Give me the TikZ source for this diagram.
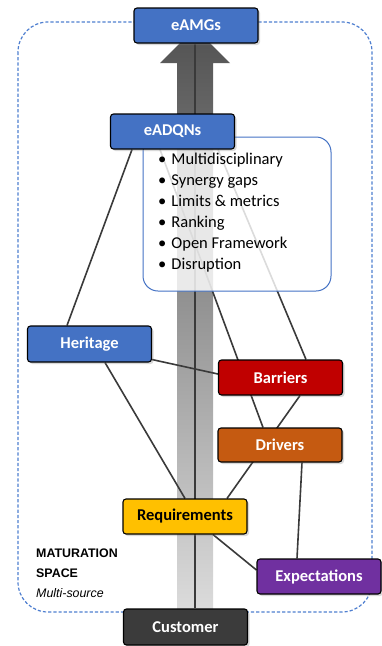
\documentclass[tikz,border=0pt]{standalone}
\usepackage{fontspec}
\setmainfont{Carlito}
\newfontfamily\arialfont{Liberation Sans}
\usetikzlibrary{shadows,calc}
\definecolor{cblue}{HTML}{4472C4}
\definecolor{cred}{HTML}{C00000}
\definecolor{corange}{HTML}{C55A11}
\definecolor{cyellow}{HTML}{FFC000}
\definecolor{cpurple}{HTML}{7030A0}
\definecolor{cdark}{HTML}{3B3B3B}
\definecolor{linkc}{HTML}{3A3A3A}
\definecolor{framec}{HTML}{4F7FD0}
\pgfdeclarelayer{l0}
\pgfdeclarelayer{l1}
\pgfdeclarelayer{l2}
\pgfsetlayers{l0,l1,l2,main}
\begin{document}
\begin{tikzpicture}[x=1pt,y=-1pt,
  box/.style={draw=black, line width=1.1pt, rounded corners=3pt,
    minimum width=124pt, minimum height=35pt, inner sep=0pt,
    font=\fontsize{16.5}{18}\selectfont\bfseries, text=white,
    drop shadow={shadow xshift=2pt, shadow yshift=-2pt, opacity=0.3}},
  link/.style={draw=linkc, line width=1.6pt},
  frame/.style={draw=framec, line width=1.2pt, dash pattern=on 3.2pt off 2pt, rounded corners=30pt}]
\useasboundingbox (0,0) rectangle (381,646);

% nodes
\node[box, fill=cblue] (eAMGs) at (196,25.5) {eAMGs};
\node[box, fill=cblue] (eADQNs) at (172.5,131.5) {eADQNs};
\node[box, fill=cblue, minimum height=36pt] (Heritage) at (89.5,344) {Heritage};
\node[box, fill=cred] (Barriers) at (280.5,377.5) {Barriers};
\node[box, fill=corange, minimum height=34pt] (Drivers) at (280,445) {Drivers};
\node[box, fill=cyellow, text=black] (Requirements) at (185,516.5) {Requirements};
\node[box, fill=cpurple] (Expectations) at (319,576.5) {Expectations};
\node[box, fill=cdark, minimum height=36pt] (Customer) at (185.5,627) {Customer};

\node[anchor=north west, align=left, inner sep=0pt, font=\arialfont\fontsize{12.4}{20}\selectfont] (label) at (36,548.5)
  {\textbf{MATURATION}\\ \textbf{SPACE}\\ \textit{Multi-source}};

\begin{pgfonlayer}{l0}
  \draw[frame] (18,22) rectangle (372,612);
  \shade[top color=black!68, middle color=black!30, bottom color=black!14]
    (177,609) -- (177,63) -- (160,63) -- (195,28) -- (230,63) -- (213,63) -- (213,609) -- cycle;
\end{pgfonlayer}

\begin{pgfonlayer}{l1}
  \draw[link] ([xshift=9.5pt]Customer.north) -- ([xshift=-1pt]eAMGs.south);
  \draw[link] ([xshift=-40.5pt]eADQNs.south) -- ([xshift=-22.5pt]Heritage.north);
  \draw[link] ([yshift=3pt]Heritage.south east) -- ([yshift=3.5pt]Barriers.west);
  \draw[link] ([xshift=15.5pt]Heritage.south) -- (Requirements.north);
  \draw[link] ([xshift=-12.5pt]eADQNs.south) -- ([xshift=-17pt]Drivers.north);
  \draw[link] ([xshift=45.5pt]eADQNs.south) -- ([xshift=25.5pt]Barriers.north);
  \draw[link] ([xshift=19.5pt]Barriers.south) -- ([xshift=42pt]Requirements.north);
  \draw[link] ([xshift=22pt]Drivers.south) -- ([xshift=-22pt]Expectations.north);
  \draw[link] ([xshift=28pt]Requirements.south) -- ([yshift=6.5pt]Expectations.west);
\end{pgfonlayer}

\begin{pgfonlayer}{l2}
  \fill[white, fill opacity=0.82, rounded corners=15pt] (143,137) rectangle (331,291);
  \draw[cblue, line width=1pt, rounded corners=15pt] (143,137) rectangle (331,291);
  \node[anchor=north west, align=left, inner sep=0pt, font=\fontsize{16.5}{21}\selectfont] (list) at (158,152.5)
    {\textbullet\hspace{5pt}Multidisciplinary\\
     \textbullet\hspace{5pt}Synergy gaps\\
     \textbullet\hspace{5pt}Limits \& metrics\\
     \textbullet\hspace{5pt}Ranking\\
     \textbullet\hspace{5pt}Open Framework\\
     \textbullet\hspace{5pt}Disruption};
\end{pgfonlayer}
\end{tikzpicture}
\end{document}
